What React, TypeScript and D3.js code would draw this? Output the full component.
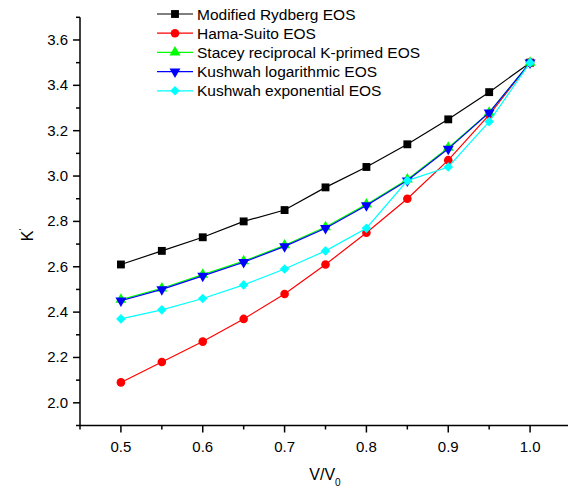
import React, { useEffect, useRef } from 'react'
import * as d3 from 'd3'

const volume = [0.5, 0.55, 0.6, 0.65, 0.7, 0.75, 0.8, 0.85, 0.9, 0.95, 1.0]
const rydberg = [2.61, 2.67, 2.73, 2.8, 2.85, 2.95, 3.04, 3.14, 3.25, 3.37, 3.5]
const hamaSuito = [2.09, 2.18, 2.27, 2.37, 2.48, 2.61, 2.75, 2.9, 3.07, 3.27, 3.5]
const stacey = [2.455, 2.505, 2.565, 2.625, 2.695, 2.775, 2.875, 2.985, 3.125, 3.28, 3.5]
const kushwahLog = [2.45, 2.5, 2.56, 2.62, 2.69, 2.77, 2.87, 2.98, 3.12, 3.28, 3.5]
const kushwahExp = [2.37, 2.41, 2.46, 2.52, 2.59, 2.67, 2.77, 2.98, 3.04, 3.24, 3.5]

const seriesNames = [
    'Modified Rydberg EOS',
    'Hama-Suito EOS',
    'Stacey reciprocal K-primed EOS',
    'Kushwah logarithmic EOS',
    'Kushwah exponential EOS'
]
const seriesValues = [rydberg, hamaSuito, stacey, kushwahLog, kushwahExp]
const seriesColors = ['#000000', '#ff0000', '#00ff00', '#0000ff', '#00ffff']

const xTicks = [0.5, 0.6, 0.7, 0.8, 0.9, 1.0]
const xMinor = [0.45, 0.55, 0.65, 0.75, 0.85, 0.95, 1.05]
const yTicks = [2.0, 2.2, 2.4, 2.6, 2.8, 3.0, 3.2, 3.4, 3.6]
const yMinor = [1.9, 2.1, 2.3, 2.5, 2.7, 2.9, 3.1, 3.3, 3.5, 3.7]

const W = 568
const H = 490
const FONT = 'Liberation Sans, Arial, sans-serif'

// marker path + transform per series
const markerFor = (i: number) => {
    const sq = d3.symbol().type(d3.symbolSquare).size(62)()
    const circ = d3.symbol().type(d3.symbolCircle).size(58)()
    const tri = d3.symbol().type(d3.symbolTriangle).size(52)()
    const dia = d3.symbol().type(d3.symbolSquare).size(46)()
    return [
        { d: sq, rot: 0 },
        { d: circ, rot: 0 },
        { d: tri, rot: 0 },
        { d: tri, rot: 180 },
        { d: dia, rot: 45 }
    ][i]
}

const draw = (el: SVGSVGElement) => {
    const svg = d3.select(el)
    svg.selectAll('*').remove()

    const x = d3.scaleLinear().domain([0.45, 1.05]).range([80, 571])
    const y = d3.scaleLinear().domain([1.9, 3.7]).range([425.5, 17.3])
    const x0 = x(0.45)
    const y0 = y(1.9)

    const axes = svg.append('g').attr('stroke', '#000').attr('stroke-width', 1.5)
    axes.append('line').attr('x1', x0).attr('x2', W + 5).attr('y1', y0).attr('y2', y0)
    axes.append('line').attr('x1', x0).attr('x2', x0).attr('y1', y(3.7)).attr('y2', y0)

    // x ticks
    xTicks.forEach(t => {
        axes.append('line').attr('x1', x(t)).attr('x2', x(t)).attr('y1', y0).attr('y2', y0 + 7)
    })
    xMinor.forEach(t => {
        axes.append('line').attr('x1', x(t)).attr('x2', x(t)).attr('y1', y0).attr('y2', y0 + 4)
    })
    yTicks.forEach(t => {
        axes.append('line').attr('x1', x0 - 7).attr('x2', x0).attr('y1', y(t)).attr('y2', y(t))
    })
    yMinor.forEach(t => {
        axes.append('line').attr('x1', x0 - 4).attr('x2', x0).attr('y1', y(t)).attr('y2', y(t))
    })

    const fmt = d3.format('.1f')
    svg.append('g')
        .selectAll('text')
        .data(xTicks)
        .join('text')
        .attr('x', d => x(d))
        .attr('y', 452)
        .attr('text-anchor', 'middle')
        .attr('font-family', FONT)
        .attr('font-size', 15)
        .text(d => fmt(d))

    svg.append('g')
        .selectAll('text')
        .data(yTicks)
        .join('text')
        .attr('x', 68)
        .attr('y', d => y(d) + 5)
        .attr('text-anchor', 'end')
        .attr('font-family', FONT)
        .attr('font-size', 15)
        .text(d => fmt(d))

    // axis titles
    const xt = svg.append('text')
        .attr('x', 325)
        .attr('y', 480)
        .attr('text-anchor', 'middle')
        .attr('font-family', FONT)
        .attr('font-size', 16)
    xt.append('tspan').text('V/V')
    xt.append('tspan').attr('font-size', 10).attr('dy', 6).text('0')

    const yt = svg.append('text')
        .attr('transform', 'translate(33,235) rotate(-90)')
        .attr('text-anchor', 'middle')
        .attr('font-family', FONT)
        .attr('font-size', 16)
    yt.append('tspan').text('K')
    yt.append('tspan').attr('font-size', 9).attr('dy', -8).text("'")

    // series
    const line = d3.line<number>().x((d, i) => x(volume[i])).y(d => y(d))
    seriesValues.forEach((vals, si) => {
        const g = svg.append('g')
        g.append('path')
            .attr('d', line(vals))
            .attr('fill', 'none')
            .attr('stroke', seriesColors[si])
            .attr('stroke-width', 1.2)
        const m = markerFor(si)
        g.selectAll('path.m')
            .data(vals)
            .join('path')
            .attr('class', 'm')
            .attr('d', m.d)
            .attr('transform', (d, i) => `translate(${x(volume[i])},${y(d)}) rotate(${m.rot})`)
            .attr('fill', seriesColors[si])
    })

    // legend
    const legend = svg.append('g')
    const rowY = d3.range(seriesNames.length).map(i => 14 + i * 19.2)
    seriesNames.forEach((name, i) => {
        const ly = rowY[i]
        legend.append('line')
            .attr('x1', 157).attr('x2', 193).attr('y1', ly).attr('y2', ly)
            .attr('stroke', seriesColors[i]).attr('stroke-width', 1.2)
        const m = markerFor(i)
        legend.append('path')
            .attr('d', m.d)
            .attr('transform', `translate(175,${ly}) rotate(${m.rot})`)
            .attr('fill', seriesColors[i])
        legend.append('text')
            .attr('x', 197)
            .attr('y', ly + 5.5)
            .attr('font-family', FONT)
            .attr('font-size', 15.5)
            .text(name)
    })
}

export default function App() {
    const ref = useRef<SVGSVGElement>(null)
    useEffect(() => {
        if (ref.current) draw(ref.current)
    }, [])
    return (
        <svg
            ref={ref}
            width={W}
            height={H}
            style={{ position: 'absolute', left: 0, top: 0, background: '#fff' }}
        />
    )
}
